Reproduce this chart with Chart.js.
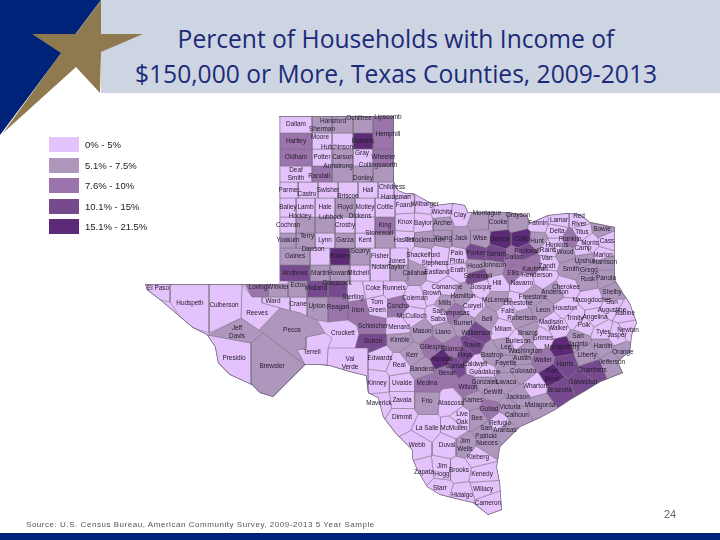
<!DOCTYPE html>
<html>
<head>
<meta charset="utf-8">
<script src="https://cdn.jsdelivr.net/npm/chart.js@4"></script>
<style>
html, body { margin: 0; padding: 0; background: #fff; }
#page { position: relative; width: 720px; height: 540px; overflow: hidden; font-family: "Liberation Sans", sans-serif; }
#band { position: absolute; left: 101px; top: 0; width: 619px; height: 93px; background: #cdd5e3; }
#foot { position: absolute; left: 0; top: 533px; width: 720px; height: 7px; background: #00237a; }
#deco { position: absolute; left: 0; top: 0; }
#title { position: absolute; left: 72px; top: 21px; width: 648px; text-align: center; font: 24.6px/35px "Open Sans", sans-serif; color: #1c2a78; }
#source { position: absolute; left: 26px; top: 520px; font-size: 8px; letter-spacing: 0.54px; color: #555; white-space: nowrap; }
#pagenum { position: absolute; left: 664px; top: 508px; font-size: 11px; color: #666; }
canvas { position: absolute; left: 0; top: 0; }
.swatch { position: absolute; left: 49px; width: 30px; height: 15px; }
.swlabel { position: absolute; left: 85px; font-size: 9.5px; color: #222; white-space: nowrap; }
</style>
</head>
<body>
<div id="page">
  <div id="band"></div>
  <div id="foot"></div>
  <svg id="deco" width="150" height="140">
    <polygon points="0,0 101,0 0,135" fill="#00237a"/>
    <polygon points="101,0 76,34 32,34 61,53 3,133 76,67 100,93 101,52 143,34 101,34" fill="#8f7a50"/>
  </svg>
  <div id="title">Percent of Households with Income of<br>$150,000 or More, Texas Counties, 2009-2013</div>
  <canvas id="map" width="720" height="540"></canvas>
  <div id="source">Source: U.S. Census Bureau, American Community Survey, 2009-2013 5 Year Sample</div>
  <div id="pagenum">24</div>
</div>
<script>
const legendLabels = ["0% - 5%", "5.1% - 7.5%", "7.6% - 10%", "10.1% - 15%", "15.1% - 21.5%"];
const classColors = ["#e4c2fb", "#ae96bd", "#9b74ac", "#774a8f", "#5c2a77"];
const legendTops = [137, 158, 178, 199, 219];

// panhandle and south plains, square counties in rows
const gridNames = ["Dallam","Sherman","Hansford","Ochiltree","Lipscomb",
  "Hartley","Moore","Hutchinson","Roberts","Hemphill",
  "Oldham","Potter","Carson","Gray","Wheeler",
  "Deaf\nSmith","Randall","Armstrong","Donley","Collingsworth",
  "Parmer","Castro","Swisher","Briscoe","Hall","Childress",
  "Bailey","Lamb","Hale","Floyd","Motley","Cottle",
  "Cochran","Hockley","Lubbock","Crosby","Dickens","King",
  "Yoakum","Terry","Lynn","Garza","Kent","Stonewall",
  "Gaines","Dawson","Borden","Scurry","Fisher","Jones",
  "Andrews","Martin","Howard","Mitchell","Nolan","Taylor"];
const gridClass = [0,1,1,1,2, 2,0,0,4,2, 2,0,1,0,2, 0,2,1,1,1,
  0,0,0,0,0,0, 0,0,0,1,0,0, 0,1,1,0,0,2, 1,1,0,1,0,1, 1,0,4,1,0,0, 3,1,1,0,0,1];
const rowTops = [116,133,149,166,182,198,217,233,248,265];
const rowBottoms = [133,149,166,182,198,217,233,248,265,281];
const rowEdges = [
  [280,312,332,353,373,394],
  [280,312,332,353,373,394],
  [280,312,332,353,373,394],
  [280,312,332,353,373,394],
  [280,298,318,338,358,378,394],
  [280,296,315,335,355,375,395],
  [280,296,315,335,355,375,395],
  [280,296,315,335,355,375,395],
  [280,310,330,350,370,390,408],
  [280,310,330,350,370,390,408]
];

// red river and north central
const northNames = ["Hardeman","Foard","Wilbarger","Wichita","Clay","Knox","Baylor","Archer","Haskell","Throckmorton",
  "Young","Jack","Wise","Montague","Cooke","Grayson","Fannin","Denton","Collin","Hunt"];
const northClass = [0,0,0,0,0,0,0,1,0,1, 1,1,1,1,1,1,0,4,4,1];
const northX = [400,404,425,442,460,405,423,443,404,425, 443,461,480,479,498,518,538,500,522,537];
const northY = [190,205,204,212,215,222,223,223,240,240, 238,238,238,222,222,222,223,239,239,241];

// metroplex and the hills west of it
const metroNames = ["Shackelford","Stephens","Palo\nPinto","Parker","Tarrant","Dallas","Rockwall","Kaufman",
  "Callahan","Eastland","Erath","Hood","Somervell","Johnson","Ellis","Hill","Navarro","Bosque",
  "Comanche","Hamilton","Brown","Coleman","Runnels","Coke"];
const metroClass = [0,0,0,3,3,2,3,2, 1,0,0,1,3,1,2,0,0,0, 0,1,0,0,0,0];
const metroX = [423,440,457,476,496,514,527,532, 415,437,458,475,478,494,513,497,522,481, 447,463,432,415,394,373];
const metroY = [255,255,257,253,254,257,251,263, 273,272,270,266,276,268,273,283,283,287, 287,296,293,298,288,288];

// east texas
const eastNames = ["Lamar","Red\nRiver","Bowie","Delta","Hopkins","Franklin","Titus","Morris","Cass","Camp",
  "Rains","Wood","Upshur","Marion","Harrison","Van\nZandt","Smith","Gregg","Rusk","Panola",
  "Henderson","Cherokee","Anderson","Shelby","Freestone","Leon","Limestone","Houston","Nacogdoches","San\nAugustine",
  "Sabine","Angelina","Trinity","Polk","Tyler","Jasper","Newton","San\nJacinto","Hardin","Orange",
  "Liberty","Jefferson"];
const eastClass = [0,0,1,0,0,2,0,0,0,0, 0,1,1,0,1,0,1,1,1,1, 0,0,1,1,1,1,0,0,0,0, 0,0,0,0,0,0,0,1,1,1, 1,1];
const eastX = [559,579,602,557,557,570,582,590,607,583, 548,565,585,603,605,547,571,589,588,606, 545,566,555,612,533,543,518,565,592,612, 625,595,575,584,603,617,628,578,603,623, 587,612];
const eastY = [220,220,229,231,245,239,232,243,241,248, 250,252,261,255,262,262,269,270,279,278, 277,287,292,292,297,310,303,308,300,306, 313,317,318,325,332,335,330,340,346,352, 355,362];

// gulf side
const gulfNames = ["Madison","Walker","Grimes","Montgomery","Harris","Chambers","Galveston","Fort\nBend","Brazoria","Waller",
  "Austin","Washington","Brazos","Burleson","Robertson","Falls","McLennan","Milam","Lee","Fayette",
  "Colorado","Wharton","Lavaca","Jackson","Matagorda","Victoria","DeWitt","Calhoun","Bastrop","Bell"];
const gulfClass = [0,0,0,4,3,3,3,4,3,2, 1,1,1,0,1,0,1,0,1,1, 1,0,1,1,1,1,1,1,1,1];
const gulfX = [551,558,543,562,565,592,583,552,560,543, 522,525,528,518,522,508,497,503,506,506, 523,535,506,518,540,510,493,517,492,487];
const gulfY = [322,328,338,347,364,370,382,375,390,360, 358,351,333,341,318,311,300,329,347,363, 371,386,382,397,405,407,392,415,355,319];

// hill country
const hillNames = ["Sterling","Irion","Tom\nGreen","Concho","McCulloch","San\nSaba","Lampasas","Burnet","Coryell","Mills","Williamson",
  "Travis","Llano","Mason","Menard","Schleicher","Crockett","Sutton","Kimble","Edwards","Real",
  "Kerr","Bandera","Gillespie","Blanco","Hays","Kendall","Comal","Caldwell","Guadalupe","Bexar"];
const hillClass = [0,2,0,2,0,0,2,1,0,1,3, 3,1,1,0,2,0,3,1,0,0, 1,1,2,2,3,4,3,0,0,2];
const hillX = [355,358,377,398,412,438,455,463,473,445,477, 472,443,422,399,373,343,373,400,380,399, 412,422,432,453,465,442,455,475,485,447];
const hillY = [291,310,306,306,316,315,313,323,306,303,333, 345,332,331,327,326,333,341,340,358,365, 355,369,347,349,355,359,366,364,372,373];

// south texas
const southNames = ["Kinney","Uvalde","Medina","Maverick","Zavala","Frio","Atascosa","Wilson","Gonzales","Karnes",
  "Goliad","Refugio","Bee","Live\nOak","McMullen","La Salle","Dimmit","Webb","Duval","Jim\nWells",
  "San\nPatricio","Aransas","Nueces","Kleberg","Zapata","Jim\nHogg","Brooks","Kenedy","Starr","Hidalgo",
  "Willacy","Cameron"];
const southClass = [0,0,2,0,0,1,0,2,1,1, 2,0,1,0,0,0,0,0,0,1, 1,1,1,0,0,0,0,0,0,0, 0,0];
const southX = [377,402,427,379,402,427,451,468,485,473, 489,500,477,462,454,427,402,417,447,465, 486,505,487,478,424,442,459,482,440,462, 483,488];
const southY = [383,383,383,403,400,401,403,387,382,400, 409,423,418,418,428,428,417,445,445,445, 432,430,443,457,472,470,470,474,488,495, 489,503];

// western counties, traced as shapes
const bigNames = ["El Paso","Hudspeth","Culberson","Reeves","Jeff\nDavis","Presidio","Brewster","Pecos","Terrell","Val\nVerde",
  "Loving","Winkler","Ector","Midland","Glasscock","Ward","Crane","Upton","Reagan"];
const bigClass = [0,0,0,0,1,0,1,1,0,0, 2,1,1,3,3,0,0,1,2];
const bigLabelX = [158,190,224,257,237,234,272,292,312,350, 258,278,298,316,337,273,298,317,338];
const bigLabelY = [288,303,305,313,332,358,366,330,352,363, 287,287,285,288,283,301,304,306,307];
const bigShapesX = [
  [145,170,170,160,147],
  [170,209,209,193,180,170],
  [209,242,241,209],
  [242,252,262,262,280,259,241],
  [241,259,263,251,208],
  [208,251,251,230,218,215,207],
  [251,263,305,290,273,260,252],
  [259,280,300,317,325,306,306,297,305,263],
  [306,325,332,328,327,305,297,306],
  [328,368,368,350,330,327],
  [245,268,268,252],
  [268,288,288,268],
  [288,307,307,288],
  [307,328,328,307],
  [328,347,347,328],
  [262,288,290,290,280,262],
  [290,307,307,300,290],
  [307,328,328,317,307],
  [328,348,348,328]
];
const bigShapesY = [
  [284,284,302,300,290],
  [284,284,333,328,317,302],
  [284,284,318,333],
  [284,297,297,303,308,330,318],
  [318,330,333,343,335],
  [335,343,385,375,363,347,335],
  [343,333,365,380,397,393,385],
  [330,308,313,320,333,337,348,350,365,333],
  [337,333,338,348,365,365,350,348],
  [348,348,395,372,366,365],
  [284,284,297,297],
  [284,284,297,297],
  [281,281,297,297],
  [281,281,297,297],
  [281,281,297,297],
  [297,297,297,311,308,303],
  [297,297,320,313,311],
  [297,297,322,320,320],
  [297,297,320,322]
];

// state outline
const outlineX = [279,394,394,398,405,413,435,453,465,468,487,507,527,530,548,567,580,590,615,615,620,623,630,637,632,630,623,618,623,600,587,570,555,540,520,500,497,500,502,488,473,460,440,427,417,412,412,395,383,378,368,366,350,330,320,305,290,273,260,252,230,218,215,207,193,180,160,147,145,242,279];
const outlineY = [116,116,182,190,193,193,205,203,205,212,212,212,215,223,215,213,214,222,227,280,288,293,303,323,335,352,357,362,373,382,390,400,410,418,427,447,467,483,510,515,503,500,495,487,470,458,450,433,417,398,393,376,372,366,365,365,380,397,393,385,375,363,347,335,328,317,300,290,284,284,284];

// labels that sit away from the middle of their county
const movedNames = ["Hansford","Sherman","Ochiltree","Lipscomb","Hemphill","Moore","Hutchinson","Gray","Armstrong","Collingsworth","Randall","Donley","Castro","Briscoe","Childress","Hardeman","Hockley","Lubbock","Dickens","Stonewall","Terry","Dawson","Scurry","Howard","Mitchell","Montague","Grayson","Stephens","Rockwall","Kaufman","Johnson","Jones","Henderson","Nolan","Taylor","Sterling"];
const movedX = [333,322,359,388,388,320,337,362,338,378,319,363,307,348,392,396,300,331,360,379,307,313,360,339,358,487,518,435,527,535,494,397,537,380,396,353];
const movedY = [121,129,118,117,134,137,147,153,166,165,176,178,194,196,187,197,216,217,216,233,236,249,251,273,273,213,215,263,251,269,265,261,275,267,267,297];

const siteNames = [].concat(northNames, metroNames, eastNames, gulfNames, hillNames, southNames);
const siteClass = [].concat(northClass, metroClass, eastClass, gulfClass, hillClass, southClass);
const siteX = [].concat(northX, metroX, eastX, gulfX, hillX, southX);
const siteY = [].concat(northY, metroY, eastY, gulfY, hillY, southY);

// keep the part of poly that is closer to site a than to site b
function clipHalf(poly, ax, ay, bx, by) {
    const mx = (ax + bx) / 2, my = (ay + by) / 2;
    const dx = bx - ax, dy = by - ay;
    const side = p => (p.x - mx) * dx + (p.y - my) * dy;
    let out = [];
    for (let i = 0; i < poly.length; i++) {
        const p = poly[i], q = poly[(i + 1) % poly.length];
        const sp = side(p), sq = side(q);
        if (sp <= 0) out.push(p);
        if ((sp < 0 && sq > 0) || (sp > 0 && sq < 0)) {
            const t = sp / (sp - sq);
            out.push({ x: p.x + (q.x - p.x) * t, y: p.y + (q.y - p.y) * t });
        }
    }
    return out;
}

function countyCell(i) {
    let poly = [{ x: 0, y: 0 }, { x: 720, y: 0 }, { x: 720, y: 540 }, { x: 0, y: 540 }];
    for (let j = 0; j < siteX.length && poly.length; j++) {
        if (j !== i) poly = clipHalf(poly, siteX[i], siteY[i], siteX[j], siteY[j]);
    }
    return poly;
}

function shapeDataset(points, cls) {
    return {
        data: points.concat([points[0]]),
        showLine: true,
        fill: 'shape',
        backgroundColor: classColors[cls],
        borderColor: '#77707c',
        borderWidth: 0.5,
        pointRadius: 0,
        tension: 0
    };
}

// chart.js paints the first dataset last, so the outline and the traced shapes go first
let datasets = [{
    data: outlineX.map((x, k) => ({ x: x, y: outlineY[k] })),
    showLine: true,
    fill: false,
    borderColor: '#6e6874',
    borderWidth: 1.4,
    pointRadius: 0,
    tension: 0
}];
let gridLabelX = [], gridLabelY = [];
let g = 0;
rowEdges.forEach((edges, r) => {
    for (let c = 0; c + 1 < edges.length; c++) {
        const l = edges[c], e = edges[c + 1], t = rowTops[r], b = rowBottoms[r];
        datasets.push(shapeDataset([{ x: l, y: t }, { x: e, y: t }, { x: e, y: b }, { x: l, y: b }], gridClass[g]));
        gridLabelX.push((l + e) / 2);
        gridLabelY.push((t + b) / 2);
        g++;
    }
});
for (let i = 0; i < bigNames.length; i++) {
    datasets.push(shapeDataset(bigShapesX[i].map((x, k) => ({ x: x, y: bigShapesY[i][k] })), bigClass[i]));
}
for (let i = 0; i < siteX.length; i++) datasets.push(shapeDataset(countyCell(i), siteClass[i]));

const stateClip = {
    id: 'stateClip',
    beforeDatasetsDraw(chart) {
        const { ctx, scales } = chart;
        ctx.save();
        ctx.beginPath();
        outlineX.forEach((x, k) => {
            const px = scales.x.getPixelForValue(x), py = scales.y.getPixelForValue(outlineY[k]);
            if (k === 0) ctx.moveTo(px, py);
            else ctx.lineTo(px, py);
        });
        ctx.closePath();
        ctx.clip();
    },
    afterDatasetsDraw(chart) {
        chart.ctx.restore();
    }
};

const countyLabels = {
    id: 'countyLabels',
    afterDraw(chart) {
        const { ctx, scales } = chart;
        ctx.save();
        ctx.font = '6.4px "Liberation Sans", sans-serif';
        ctx.fillStyle = '#241c2a';
        ctx.textAlign = 'center';
        ctx.textBaseline = 'middle';
        const put = (name, x, y) => {
            const m = movedNames.indexOf(name);
            if (m >= 0) { x = movedX[m]; y = movedY[m]; }
            const lines = name.split('\n');
            lines.forEach((line, k) => {
                ctx.fillText(line, scales.x.getPixelForValue(x), scales.y.getPixelForValue(y + (k - (lines.length - 1) / 2) * 7.5));
            });
        };
        gridNames.forEach((name, i) => put(name, gridLabelX[i], gridLabelY[i]));
        siteNames.forEach((name, i) => put(name, siteX[i], siteY[i]));
        bigNames.forEach((name, i) => put(name, bigLabelX[i], bigLabelY[i]));
        ctx.restore();
    }
};

new Chart(document.getElementById('map'), {
    type: 'scatter',
    data: { datasets: datasets },
    plugins: [stateClip, countyLabels],
    options: {
        responsive: false,
        animation: false,
        layout: { padding: 0 },
        plugins: { legend: { display: false }, tooltip: { enabled: false } },
        scales: {
            x: { type: 'linear', display: false, min: 0, max: 720 },
            y: { type: 'linear', display: false, min: 0, max: 540, reverse: true }
        }
    }
});

const page = document.getElementById('page');
legendLabels.forEach((text, i) => {
    const box = document.createElement('div');
    box.className = 'swatch';
    box.style.top = legendTops[i] + 'px';
    box.style.background = classColors[i];
    page.appendChild(box);
    const label = document.createElement('div');
    label.className = 'swlabel';
    label.style.top = (legendTops[i] + 2) + 'px';
    label.textContent = text;
    page.appendChild(label);
});
</script>
</body>
</html>
